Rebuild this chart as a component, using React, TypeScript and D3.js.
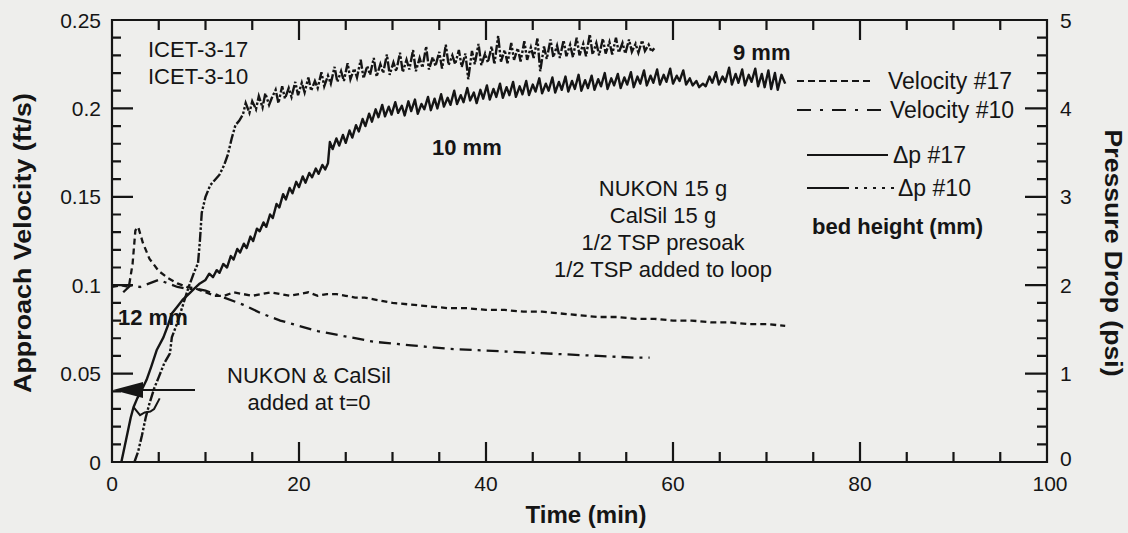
import React from "react";
import * as d3 from "d3";

// ---------- data ----------
// Velocity #17 (ft/s), left axis
const velocity17: [number, number][] = [
  [0, 0.099], [1, 0.1], [1.8, 0.099], [2.2, 0.112], [2.5, 0.131], [2.8, 0.133], [3.3, 0.124],
  [4, 0.115], [5, 0.108], [6, 0.104], [7, 0.101], [8, 0.099], [9, 0.098], [10, 0.096],
  [11, 0.094], [12, 0.094], [13, 0.096], [14, 0.095], [15, 0.094], [16, 0.095], [17, 0.096],
  [18, 0.095], [19, 0.094], [20, 0.095], [21, 0.096], [22, 0.094], [23, 0.095], [24, 0.095],
  [25, 0.094], [26, 0.093], [27, 0.093], [28, 0.092], [29, 0.091], [30, 0.09], [32, 0.089],
  [34, 0.088], [36, 0.087], [38, 0.087], [40, 0.086], [42, 0.086], [44, 0.085], [46, 0.085],
  [48, 0.084], [50, 0.083], [52, 0.082], [54, 0.082], [56, 0.081], [58, 0.081], [60, 0.08],
  [62, 0.08], [64, 0.079], [66, 0.079], [68, 0.078], [70, 0.078], [72, 0.077],
];

// Velocity #10 (ft/s), left axis
const velocity10: [number, number][] = [
  [1.2, 0.096], [2, 0.1], [3, 0.099], [4, 0.101], [5, 0.103], [6, 0.101], [7, 0.099],
  [8, 0.098], [9, 0.098], [10, 0.097], [12, 0.093], [14, 0.089], [16, 0.084], [18, 0.08],
  [20, 0.077], [22, 0.074], [24, 0.072], [26, 0.07], [28, 0.068], [30, 0.067], [32, 0.066],
  [34, 0.065], [36, 0.064], [40, 0.063], [44, 0.062], [48, 0.061], [52, 0.06], [56, 0.059],
  [57.5, 0.059],
];

// Δp #17 (psi), right axis
const dp17: [number, number][] = [
  [1.0, 0], [1.5, 0.25], [2.0, 0.5], [2.3, 0.62], [2.7, 0.72], [3.2, 0.82], [3.7, 0.93],
  [4.2, 1.08], [4.8, 1.27], [5.5, 1.41], [6.0, 1.55], [6.4, 1.68], [7.0, 1.76], [7.6, 1.84],
  [8.2, 1.9], [8.8, 1.96], [9.4, 2.02],
  [10.0, 2.06], [10.4, 2.13], [10.8, 2.09], [11.2, 2.17], [11.5, 2.14], [11.9, 2.24], [12.3, 2.2],
  [12.7, 2.33], [13.0, 2.29], [13.4, 2.41], [13.7, 2.37], [14.1, 2.47], [14.4, 2.42], [14.8, 2.55],
  [15.1, 2.5], [15.5, 2.64], [15.8, 2.61], [16.2, 2.71], [16.5, 2.66], [16.9, 2.8], [17.2, 2.76],
  [17.6, 2.92], [17.9, 2.88], [18.3, 3.03], [18.6, 2.97], [19.0, 3.1], [19.3, 3.04], [19.7, 3.17],
  [20.0, 3.11], [20.4, 3.23], [20.7, 3.16], [21.1, 3.27], [21.4, 3.22], [21.8, 3.32], [22.1, 3.26],
  [22.5, 3.36], [22.8, 3.31], [23.1, 3.38], [23.3, 3.62], [23.6, 3.54], [24.0, 3.66], [24.3, 3.58],
  [24.7, 3.7], [25.0, 3.61], [25.4, 3.75], [25.7, 3.67], [26.1, 3.81], [26.4, 3.74], [26.8, 3.88],
  [27.1, 3.8], [27.5, 3.94], [27.8, 3.85], [28.2, 3.99], [28.5, 3.9], [28.9, 4.04], [29.2, 3.91],
  [29.6, 4.02], [29.9, 3.93], [30.3, 4.07], [30.6, 3.95], [31.0, 4.03], [31.3, 3.92], [31.7, 4.08],
  [32.0, 3.97], [32.4, 4.1], [32.7, 3.94], [33.1, 4.05], [33.4, 3.99], [33.8, 4.13], [34.1, 3.98],
  [34.5, 4.11], [34.8, 4.0], [35.2, 4.16], [35.5, 4.02], [35.9, 4.12], [36.2, 4.04], [36.6, 4.2],
  [36.9, 4.05], [37.3, 4.15], [37.6, 4.07], [38.0, 4.23], [38.3, 4.09], [38.7, 4.18], [39.0, 4.06],
  [39.4, 4.21], [39.7, 4.11], [40.1, 4.26], [40.4, 4.1], [40.8, 4.22], [41.1, 4.13], [41.5, 4.28],
  [41.8, 4.12], [42.2, 4.24], [42.5, 4.15], [42.9, 4.3], [43.2, 4.13], [43.6, 4.25], [43.9, 4.16],
  [44.3, 4.31], [44.6, 4.15], [45.0, 4.27], [45.3, 4.19], [45.7, 4.34], [46.0, 4.17], [46.4, 4.28],
  [46.7, 4.2], [47.1, 4.35], [47.4, 4.18], [47.8, 4.3], [48.1, 4.21], [48.5, 4.36], [48.8, 4.19],
  [49.2, 4.31], [49.5, 4.22], [49.9, 4.38], [50.2, 4.2], [50.6, 4.32], [50.9, 4.23], [51.3, 4.37],
  [51.6, 4.21], [52.0, 4.33], [52.3, 4.25], [52.7, 4.4], [53.0, 4.22], [53.4, 4.34], [53.7, 4.26],
  [54.1, 4.39], [54.4, 4.23], [54.8, 4.35], [55.1, 4.27], [55.5, 4.41], [55.8, 4.24], [56.2, 4.36],
  [56.5, 4.28], [56.9, 4.43], [57.2, 4.26], [57.6, 4.37], [57.9, 4.29], [58.3, 4.44], [58.6, 4.27],
  [59.0, 4.38], [59.3, 4.3], [59.7, 4.45], [60.0, 4.28], [60.4, 4.37], [60.7, 4.31], [61.1, 4.43],
  [61.4, 4.27], [61.8, 4.34], [62.1, 4.26], [62.5, 4.31], [62.8, 4.24], [63.2, 4.28], [63.5, 4.25],
  [63.9, 4.36], [64.2, 4.29], [64.6, 4.41], [64.9, 4.27], [65.3, 4.36], [65.6, 4.3], [66.0, 4.46],
  [66.3, 4.27], [66.7, 4.39], [67.0, 4.29], [67.4, 4.44], [67.7, 4.26], [68.1, 4.38], [68.4, 4.3],
  [68.8, 4.45], [69.1, 4.25], [69.5, 4.39], [69.8, 4.24], [70.2, 4.43], [70.5, 4.22], [70.9, 4.4],
  [71.2, 4.21], [71.6, 4.38], [72.0, 4.28],
];

// Δp #17 short early branch (psi)
const dp17Branch: [number, number][] = [
  [2.3, 0.62], [3.0, 0.53], [3.5, 0.56], [4.1, 0.57], [4.5, 0.6], [5.1, 0.72],
];

// Δp #10 (psi), right axis
const dp10: [number, number][] = [
  [2.4, 0], [2.8, 0.12], [3.2, 0.3], [3.6, 0.5], [4.0, 0.66], [4.5, 0.83], [5.0, 0.96],
  [5.6, 1.12], [6.2, 1.23], [6.4, 1.41], [7.0, 1.58], [7.6, 1.78], [8.2, 1.98], [8.8, 2.15],
  [9.2, 2.25], [9.4, 2.5], [9.6, 2.82], [10.0, 3.0], [10.5, 3.13], [11.0, 3.19], [11.5, 3.25],
  [12.0, 3.36], [12.4, 3.48], [12.8, 3.66], [13.2, 3.81], [13.6, 3.86],
  [14.0, 3.93], [14.3, 4.06], [14.7, 3.95], [15.0, 4.08], [15.4, 3.99], [15.7, 4.14], [16.1, 4.01],
  [16.4, 4.17], [16.8, 4.04], [17.1, 4.12], [17.5, 4.21], [17.8, 4.06], [18.2, 4.25], [18.5, 4.11],
  [18.9, 4.23], [19.2, 4.13], [19.6, 4.3], [19.9, 4.15], [20.3, 4.29], [20.6, 4.18], [21.0, 4.35],
  [21.3, 4.2], [21.7, 4.31], [22.0, 4.23], [22.4, 4.41], [22.7, 4.25], [23.1, 4.37], [23.4, 4.28],
  [23.8, 4.47], [24.1, 4.3], [24.5, 4.42], [24.8, 4.31], [25.2, 4.51], [25.5, 4.33], [25.9, 4.45],
  [26.2, 4.35], [26.6, 4.55], [26.9, 4.34], [27.3, 4.48], [27.6, 4.38], [28.0, 4.57], [28.3, 4.36],
  [28.7, 4.5], [29.0, 4.4], [29.4, 4.61], [29.7, 4.38], [30.1, 4.52], [30.4, 4.42], [30.8, 4.63],
  [31.1, 4.41], [31.5, 4.55], [31.8, 4.44], [32.2, 4.66], [32.5, 4.42], [32.9, 4.57], [33.2, 4.46],
  [33.6, 4.7], [33.9, 4.44], [34.3, 4.58], [34.6, 4.48], [35.0, 4.64], [35.3, 4.45], [35.7, 4.72],
  [36.0, 4.49], [36.4, 4.6], [36.7, 4.5], [37.1, 4.66], [37.4, 4.47], [37.8, 4.62], [38.1, 4.33],
  [38.5, 4.65], [38.8, 4.5], [39.2, 4.73], [39.5, 4.49], [39.9, 4.62], [40.2, 4.52], [40.6, 4.7],
  [40.9, 4.5], [41.3, 4.82], [41.6, 4.53], [42.0, 4.66], [42.3, 4.51], [42.7, 4.74], [43.0, 4.55],
  [43.4, 4.68], [43.7, 4.53], [44.1, 4.76], [44.4, 4.55], [44.8, 4.69], [45.1, 4.57], [45.5, 4.79],
  [45.8, 4.42], [46.2, 4.7], [46.5, 4.56], [46.9, 4.78], [47.2, 4.58], [47.6, 4.71], [47.9, 4.57],
  [48.3, 4.77], [48.6, 4.59], [49.0, 4.72], [49.3, 4.58], [49.7, 4.8], [50.0, 4.6], [50.4, 4.73],
  [50.7, 4.59], [51.1, 4.84], [51.4, 4.61], [51.8, 4.74], [52.1, 4.6], [52.5, 4.79], [52.8, 4.62],
  [53.2, 4.75], [53.5, 4.61], [53.9, 4.8], [54.2, 4.63], [54.6, 4.74], [54.9, 4.62], [55.3, 4.78],
  [55.6, 4.64], [56.0, 4.73], [56.3, 4.63], [56.7, 4.77], [57.0, 4.65], [57.4, 4.72], [57.7, 4.64],
  [58.0, 4.68],
];

const xTicks = [0, 20, 40, 60, 80, 100];
const leftTicks = [0, 0.05, 0.1, 0.15, 0.2, 0.25];
const leftTickLabels = ["0", "0.05", "0.1", "0.15", "0.2", "0.25"];
const rightTicks = [0, 1, 2, 3, 4, 5];

const legendLabels = ["Velocity #17", "Velocity #10", "\u0394p #17", "\u0394p #10"];
const conditionLines = ["NUKON 15 g", "CalSil 15 g", "1/2 TSP presoak", "1/2 TSP added to loop"];
const testLabels = ["ICET-3-17", "ICET-3-10"];
const additionLines = ["NUKON & CalSil", "added at t=0"];

// ---------- layout ----------
const W = 1128;
const H = 533;
const X0 = 112, X1 = 1047, Y0 = 462, Y1 = 20;
const INK = "#151515";
const BG = "#eeeeec";
const FONT = "Liberation Sans, Arial, Helvetica, sans-serif";

const DASH_V17 = "6,4";
const DASH_V10 = "12,6,3,6";
const DASH_DP10 = "10,2,2.5,2,2.5,2";

export default function App() {
  const x = d3.scaleLinear().domain([0, 100]).range([X0, X1]);
  const yL = d3.scaleLinear().domain([0, 0.25]).range([Y0, Y1]);
  const yR = d3.scaleLinear().domain([0, 5]).range([Y0, Y1]);

  const lineL = d3.line<[number, number]>().x((d) => x(d[0])).y((d) => yL(d[1]));
  const lineR = d3.line<[number, number]>().x((d) => x(d[0])).y((d) => yR(d[1]));

  // frame and all tick marks in one path
  const ax = d3.path();
  ax.rect(X0, Y1, X1 - X0, Y0 - Y1);
  d3.range(0, 21).forEach((i) => {
    const px = x(i * 5);
    const len = i % 4 === 0 ? 20 : 10;
    ax.moveTo(px, Y0);
    ax.lineTo(px, Y0 - len);
    ax.moveTo(px, Y1);
    ax.lineTo(px, Y1 + len);
  });
  d3.range(0, 26).forEach((i) => {
    const py = yL(i / 100);
    const len = i % 5 === 0 ? 21 : 9;
    ax.moveTo(X0, py);
    ax.lineTo(X0 + len, py);
  });
  d3.range(0, 26).forEach((i) => {
    const py = yR(i / 5);
    const len = i % 5 === 0 ? 22 : 10;
    ax.moveTo(X1, py);
    ax.lineTo(X1 - len, py);
  });

  return (
    <svg width={W} height={H} viewBox={`0 0 ${W} ${H}`} style={{ position: "absolute", left: 0, top: 0 }}>
      <rect x={0} y={0} width={W} height={H} fill={BG} />

      {/* data lines */}
      <path d={lineL(velocity17) || ""} fill="none" stroke={INK} strokeWidth={2.3} strokeDasharray={DASH_V17} />
      <path d={lineL(velocity10) || ""} fill="none" stroke={INK} strokeWidth={2.3} strokeDasharray={DASH_V10} />
      <path d={lineR(dp17) || ""} fill="none" stroke={INK} strokeWidth={2.4} strokeLinejoin="round" />
      <path d={lineR(dp17Branch) || ""} fill="none" stroke={INK} strokeWidth={2} />
      <path d={lineR(dp10) || ""} fill="none" stroke={INK} strokeWidth={2.4} strokeDasharray={DASH_DP10} />

      {/* frame + ticks */}
      <path d={ax.toString()} fill="none" stroke={INK} strokeWidth={2.2} />

      {/* tick labels */}
      {xTicks.map((v) => (
        <text key={"xl" + v} x={x(v) + (v === 100 ? 3 : 0)} y={491} textAnchor="middle"
          fontFamily={FONT} fontSize={21} fill={INK}>
          {v}
        </text>
      ))}
      {leftTicks.map((v, i) => (
        <text key={"ll" + i} x={101} y={yL(v) + 7.5} textAnchor="end"
          fontFamily={FONT} fontSize={21} fill={INK}>
          {leftTickLabels[i]}
        </text>
      ))}
      {rightTicks.map((v) => (
        <text key={"rl" + v} x={1060} y={yR(v) + 7.5 - (v === 0 ? 4 : 0)}
          fontFamily={FONT} fontSize={21} fill={INK}>
          {v}
        </text>
      ))}

      {/* axis titles */}
      <text x={586} y={523} textAnchor="middle" fontFamily={FONT} fontWeight="bold" fontSize={24} fill={INK}>
        Time (min)
      </text>
      <text
        transform="translate(31, 243) rotate(-90)"
        textAnchor="middle"
        textLength={300}
        lengthAdjust="spacingAndGlyphs"
        fontFamily={FONT} fontWeight="bold" fontSize={24} fill={INK}
      >
        Approach Velocity (ft/s)
      </text>
      <text
        transform="translate(1105, 253) rotate(90)"
        textAnchor="middle"
        textLength={247}
        lengthAdjust="spacingAndGlyphs"
        fontFamily={FONT} fontWeight="bold" fontSize={24} fill={INK}
      >
        Pressure Drop (psi)
      </text>

      {/* annotations */}
      <text x={148} y={57} fontFamily={FONT} fontSize={22} fill={INK}>{testLabels[0]}</text>
      <text x={148} y={84} fontFamily={FONT} fontSize={22} fill={INK}>{testLabels[1]}</text>
      {conditionLines.map((s, i) => (
        <text key={s} x={663} y={196 + i * 27} textAnchor="middle" fontFamily={FONT} fontSize={22} fill={INK}>{s}</text>
      ))}
      {additionLines.map((s, i) => (
        <text key={s} x={309} y={383 + i * 27} textAnchor="middle" fontFamily={FONT} fontSize={22} fill={INK}>{s}</text>
      ))}
      <text x={733} y={60} fontFamily={FONT} fontSize={22} fontWeight="bold" fill={INK}>9 mm</text>
      <text x={432} y={155} fontFamily={FONT} fontSize={22} fontWeight="bold" fill={INK}>10 mm</text>
      <text x={118} y={325} fontFamily={FONT} fontSize={22} fontWeight="bold" fill={INK}>12 mm</text>
      <text x={812} y={234} fontFamily={FONT} fontSize={22} fontWeight="bold" fill={INK}>bed height (mm)</text>

      {/* arrow */}
      <line x1={140} x2={195} y1={390} y2={390} stroke={INK} strokeWidth={2} />
      <path d="M113,390 L143,382 L143,398 Z" fill={INK} />

      {/* legend */}
      <line x1={797} x2={873} y1={81} y2={81} stroke={INK} strokeWidth={2.2} strokeDasharray="7,4" />
      <line x1={797} x2={882} y1={110} y2={110} stroke={INK} strokeWidth={2.2} strokeDasharray="14,9,3,9" />
      <line x1={807} x2={888} y1={155} y2={155} stroke={INK} strokeWidth={2.2} />
      <line x1={807} x2={894} y1={188} y2={188} stroke={INK} strokeWidth={2.2} strokeDasharray="42,6,3,6,3,6,3,6,3,6" />
      <text x={888} y={89} fontFamily={FONT} fontSize={23} fill={INK}>{legendLabels[0]}</text>
      <text x={890} y={118} fontFamily={FONT} fontSize={23} fill={INK}>{legendLabels[1]}</text>
      <text x={893} y={163} fontFamily={FONT} fontSize={23} fill={INK}>{legendLabels[2]}</text>
      <text x={898} y={196} fontFamily={FONT} fontSize={23} fill={INK}>{legendLabels[3]}</text>
    </svg>
  );
}
